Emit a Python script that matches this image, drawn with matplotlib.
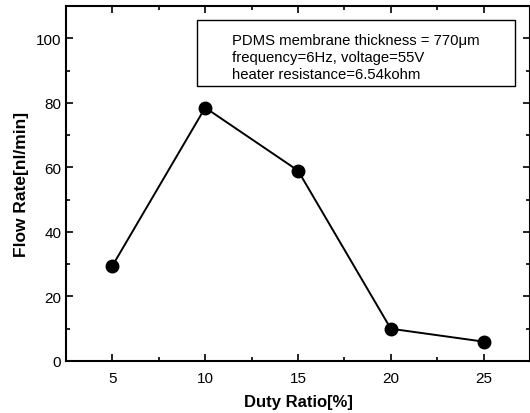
import matplotlib
matplotlib.use("Agg")
import matplotlib.pyplot as plt
from matplotlib.patches import Rectangle
from matplotlib.ticker import MultipleLocator

# duty ratio vs flow rate
duty = [5, 10, 15, 20, 25]
flow = [29.5, 78.5, 59, 10, 6]

plt.rcParams['font.family'] = ['Liberation Sans', 'DejaVu Sans']

fig = plt.figure(figsize=(5.30, 4.14), dpi=100)
ax = fig.add_axes([66/530, 1-362/414, 1-66/530, (362-7)/414])

ax.plot(duty, flow, 'k-', lw=1.4, marker='o', ms=9, mfc='k', mec='k')

ax.set_xlim(2.5, 27.5)
ax.set_ylim(0, 110)
ax.set_xticks(duty)
ax.set_yticks([0, 20, 40, 60, 80, 100])
ax.xaxis.set_minor_locator(MultipleLocator(2.5))
ax.yaxis.set_minor_locator(MultipleLocator(10))
ax.tick_params(which='both', direction='in', top=True, right=True, labelsize=11, width=1.2)
ax.tick_params(which='major', length=5)
ax.tick_params(which='minor', length=3)
ax.tick_params(axis='x', pad=7)
for s in ax.spines.values():
    s.set_linewidth(1.5)

ax.set_xlabel("Duty Ratio[%]", fontsize=12, fontweight='bold', labelpad=7)
ax.set_ylabel("Flow Rate[nl/min]", fontsize=12.5, fontweight='bold', labelpad=5)

# info box
ax.add_patch(Rectangle((0.282, 0.775), 0.686, 0.186, transform=ax.transAxes,
                       fc='white', ec='k', lw=1.0, zorder=3))
txt = ("PDMS membrane thickness = 770\u03bcm\n"
       "frequency=6Hz, voltage=55V\n"
       "heater resistance=6.54kohm")
ax.text(0.358, 0.856, txt, transform=ax.transAxes, fontsize=10.7, va='center', ha='left',
        linespacing=1.3, zorder=4)

fig.savefig("out.png", dpi=100)
